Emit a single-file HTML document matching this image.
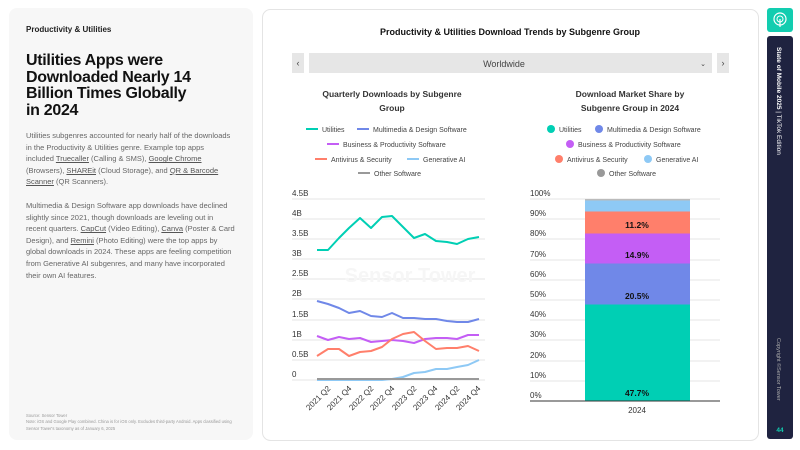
<!DOCTYPE html>
<html><head><meta charset="utf-8"><style>
html,body{margin:0;padding:0;width:800px;height:450px;overflow:hidden;background:#fff;font-family:"Liberation Sans",sans-serif;}
#left{position:absolute;left:9px;top:8px;width:244px;height:432px;background:#f7f7f7;border-radius:8px;}
.cat{position:absolute;left:17px;top:17px;font-size:8px;font-weight:bold;color:#222;}
h1{position:absolute;left:17px;top:45px;margin:0;font-size:16px;line-height:16.7px;font-weight:bold;color:#111;white-space:nowrap;letter-spacing:-0.3px}
.p{position:absolute;left:17px;font-size:7.5px;line-height:11.6px;color:#666;white-space:nowrap;}
.p u{color:#555}
.note{position:absolute;left:17px;top:405px;font-size:4.2px;line-height:6.4px;color:#999;width:220px}
</style></head><body>
<div id="left">
<div class="cat">Productivity &amp; Utilities</div>
<h1>Utilities Apps were<br>Downloaded Nearly 14<br>Billion Times Globally<br>in 2024</h1>
<div class="p" style="top:122px">Utilities subgenres accounted for nearly half of the downloads<br>in the Productivity &amp; Utilities genre. Example top apps<br>included <u>Truecaller</u> (Calling &amp; SMS), <u>Google Chrome</u><br>(Browsers), <u>SHAREit</u> (Cloud Storage), and <u>QR &amp; Barcode</u><br><u>Scanner</u> (QR Scanners).</div>
<div class="p" style="top:192px">Multimedia &amp; Design Software app downloads have declined<br>slightly since 2021, though downloads are leveling out in<br>recent quarters. <u>CapCut</u> (Video Editing), <u>Canva</u> (Poster &amp; Card<br>Design), and <u>Remini</u> (Photo Editing) were the top apps by<br>global downloads in 2024. These apps are feeling competition<br>from Generative AI subgenres, and many have incorporated<br>their own AI features.</div>
<div class="note">Source: Sensor Tower<br>Note: iOS and Google Play combined. China is for iOS only. Excludes third-party Android. Apps classified using Sensor Tower's taxonomy as of January 6, 2025</div>
</div>
<svg width="800" height="450" style="position:absolute;left:0;top:0" font-family="Liberation Sans, sans-serif">
<rect x="262.5" y="9.5" width="496" height="431" rx="8" fill="#fff" stroke="#e4e4e4"/>
<text x="510" y="35" text-anchor="middle" font-size="9" font-weight="bold" fill="#111">Productivity &amp; Utilities Download Trends by Subgenre Group</text>
<rect x="292" y="53" width="12" height="20" fill="#e6e6e6"/>
<text x="298" y="66" text-anchor="middle" font-size="9" fill="#444">‹</text>
<rect x="309" y="53" width="403" height="20" fill="#e6e6e6"/>
<text x="504" y="67" text-anchor="middle" font-size="9" fill="#444">Worldwide</text>
<text x="703" y="66" text-anchor="middle" font-size="7" fill="#444">⌄</text>
<rect x="717" y="53" width="12" height="20" fill="#e6e6e6"/>
<text x="723" y="66" text-anchor="middle" font-size="9" fill="#444">›</text>
<g font-size="8.5" font-weight="bold" fill="#333" text-anchor="middle">
<text x="392" y="97">Quarterly Downloads by Subgenre</text><text x="392" y="111">Group</text>
<text x="630" y="97">Download Market Share by</text><text x="630" y="111">Subgenre Group in 2024</text>
</g>
<g font-size="7" fill="#444">
<line x1="306" y1="129" x2="318" y2="129" stroke="#00cfb4" stroke-width="2"/><text x="322" y="132">Utilities</text>
<line x1="357" y1="129" x2="369" y2="129" stroke="#7088e8" stroke-width="2"/><text x="373" y="132">Multimedia &amp; Design Software</text>
<line x1="327" y1="144" x2="339" y2="144" stroke="#c45ef5" stroke-width="2"/><text x="343" y="147">Business &amp; Productivity Software</text>
<line x1="315" y1="159" x2="327" y2="159" stroke="#ff7f6b" stroke-width="2"/><text x="331" y="162">Antivirus &amp; Security</text>
<line x1="407" y1="159" x2="419" y2="159" stroke="#8ec9f5" stroke-width="2"/><text x="423" y="162">Generative AI</text>
<line x1="358" y1="173" x2="370" y2="173" stroke="#999" stroke-width="2"/><text x="374" y="176">Other Software</text>
<circle cx="551" cy="129" r="4" fill="#00cfb4"/><text x="559" y="132">Utilities</text>
<circle cx="599" cy="129" r="4" fill="#7088e8"/><text x="607" y="132">Multimedia &amp; Design Software</text>
<circle cx="570" cy="144" r="4" fill="#c45ef5"/><text x="578" y="147">Business &amp; Productivity Software</text>
<circle cx="559" cy="159" r="4" fill="#ff7f6b"/><text x="567" y="162">Antivirus &amp; Security</text>
<circle cx="648" cy="159" r="4" fill="#8ec9f5"/><text x="656" y="162">Generative AI</text>
<circle cx="601" cy="173" r="4" fill="#999"/><text x="609" y="176">Other Software</text>
</g>
<g stroke="#e6e6e6" stroke-width="1">
<line x1="292" y1="199" x2="485" y2="199"/><line x1="292" y1="219" x2="485" y2="219"/><line x1="292" y1="239" x2="485" y2="239"/><line x1="292" y1="259" x2="485" y2="259"/><line x1="292" y1="279" x2="485" y2="279"/><line x1="292" y1="299" x2="485" y2="299"/><line x1="292" y1="320" x2="485" y2="320"/><line x1="292" y1="340" x2="485" y2="340"/><line x1="292" y1="360" x2="485" y2="360"/><line x1="292" y1="380" x2="485" y2="380"/>
</g>
<g font-size="8" fill="#333">
<text x="292" y="196">4.5B</text><text x="292" y="216">4B</text><text x="292" y="236">3.5B</text><text x="292" y="256">3B</text><text x="292" y="276">2.5B</text><text x="292" y="296">2B</text><text x="292" y="317">1.5B</text><text x="292" y="337">1B</text><text x="292" y="357">0.5B</text><text x="292" y="377">0</text>
</g>
<text x="410" y="282" text-anchor="middle" font-size="20" font-weight="bold" fill="#f6f6f6">Sensor Tower</text>
<g fill="none" stroke-width="2" stroke-linejoin="round">
<polyline stroke="#00cfb4" points="317,250 328,250 339,238 349,228 360,218 371,228 382,217 392,216 403,227 414,238 425,234 436,241 447,242 457,244 468,239 479,237"/>
<polyline stroke="#7088e8" points="317,301 328,304 339,308 349,313 360,311 371,316 382,317 392,313 403,318 414,318 425,319 436,319 447,321 457,322 468,322 479,319"/>
<polyline stroke="#c45ef5" points="317,336 328,340 339,337 349,339 360,338 371,342 382,341 392,340 403,341 414,343 425,339 436,338 447,338 457,339 468,335 479,335"/>
<polyline stroke="#ff7f6b" points="317,356 328,349 339,349 349,356 360,352 371,351 382,347 392,339 403,334 414,332 425,341 436,349 447,348 457,348 468,346 479,351"/>
<polyline stroke="#8ec9f5" points="317,380 382,380 392,379 403,377 414,373 425,372 436,369 447,369 457,367 468,365 479,360"/>
<polyline stroke="#999" points="317,379 479,379"/>
</g>
<g font-size="8" fill="#333" text-anchor="end">
<text transform="translate(331,389) rotate(-45)">2021 Q2</text>
<text transform="translate(352,389) rotate(-45)">2021 Q4</text>
<text transform="translate(374,389) rotate(-45)">2022 Q2</text>
<text transform="translate(395,389) rotate(-45)">2022 Q4</text>
<text transform="translate(417,389) rotate(-45)">2023 Q2</text>
<text transform="translate(438,389) rotate(-45)">2023 Q4</text>
<text transform="translate(460,389) rotate(-45)">2024 Q2</text>
<text transform="translate(481,389) rotate(-45)">2024 Q4</text>
</g>
<g stroke="#e6e6e6">
<line x1="530" y1="199" x2="720" y2="199"/><line x1="530" y1="219" x2="720" y2="219"/><line x1="530" y1="239" x2="720" y2="239"/><line x1="530" y1="260" x2="720" y2="260"/><line x1="530" y1="280" x2="720" y2="280"/><line x1="530" y1="300" x2="720" y2="300"/><line x1="530" y1="320" x2="720" y2="320"/><line x1="530" y1="340" x2="720" y2="340"/><line x1="530" y1="361" x2="720" y2="361"/><line x1="530" y1="381" x2="720" y2="381"/>
</g>
<g font-size="8" fill="#333">
<text x="530" y="196">100%</text><text x="530" y="216">90%</text><text x="530" y="236">80%</text><text x="530" y="257">70%</text><text x="530" y="277">60%</text><text x="530" y="297">50%</text><text x="530" y="317">40%</text><text x="530" y="337">30%</text><text x="530" y="358">20%</text><text x="530" y="378">10%</text><text x="530" y="398">0%</text>
</g>
<rect x="585" y="199" width="105" height="1.5" fill="#bbb"/>
<rect x="585" y="200.5" width="105" height="11" fill="#8ec9f5"/>
<rect x="585" y="211.5" width="105" height="22" fill="#ff7f6b"/>
<rect x="585" y="233.5" width="105" height="30" fill="#c45ef5"/>
<rect x="585" y="263.5" width="105" height="41" fill="#7088e8"/>
<rect x="585" y="304.5" width="105" height="96.5" fill="#00cfb4"/>
<line x1="530" y1="401" x2="720" y2="401" stroke="#333" stroke-width="1"/>
<g font-size="8.5" font-weight="bold" fill="#111" text-anchor="middle">
<text x="637" y="228">11.2%</text><text x="637" y="258">14.9%</text><text x="637" y="299">20.5%</text><text x="637" y="396">47.7%</text>
</g>
<text x="637" y="413" text-anchor="middle" font-size="8" fill="#333">2024</text>
<rect x="767" y="8" width="26" height="24" rx="3" fill="#12cdb0"/>
<circle cx="780" cy="19" r="6" fill="none" stroke="#fff" stroke-width="1.2"/><circle cx="780" cy="19" r="3" fill="none" stroke="#fff" stroke-width="1"/><line x1="780" y1="19" x2="780" y2="27" stroke="#fff" stroke-width="1.2"/>
<rect x="767" y="36" width="26" height="403" rx="3" fill="#1f2340"/>
<text transform="translate(777,47) rotate(90)" font-size="6.5" fill="#fff"><tspan font-weight="bold">State of Mobile 2025</tspan> | TikTok Edition</text>
<text transform="translate(777,338) rotate(90)" font-size="5.5" fill="#aaa">Copyright ©Sensor Tower</text>
<text x="780" y="432" text-anchor="middle" font-size="6.5" font-weight="bold" fill="#12cdb0">44</text>
</svg>
</body></html>
